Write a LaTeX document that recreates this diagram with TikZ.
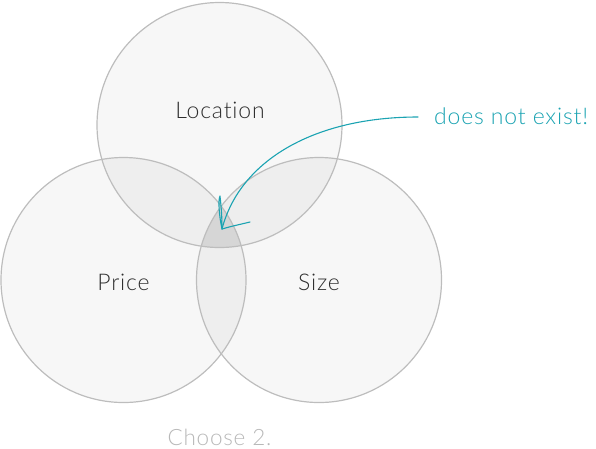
\documentclass[tikz,border=0pt]{standalone}
\usepackage{fontspec}
\setmainfont{Lato Light}[LetterSpace=3.5,Ligatures=NoCommon]
\definecolor{circfill}{HTML}{F7F7F7}
\definecolor{pairfill}{HTML}{EEEEEE}
\definecolor{tripfill}{HTML}{D6D6D6}
\definecolor{circline}{HTML}{BDBDBD}
\definecolor{teal}{HTML}{1BA3B2}
\definecolor{txt}{HTML}{2E2E2E}
\definecolor{capt}{HTML}{B8B8B8}
\begin{document}
\begin{tikzpicture}[x=1pt,y=-1pt,
  lbl/.style={font=\fontsize{23}{25}\selectfont, text=txt, inner sep=0pt},
  circ/.style={draw=circline, line width=1.2pt},
  note/.style={draw=teal, line width=1.1pt, line cap=round, line join=round}]
\useasboundingbox (0,0) rectangle (596,448);
\def\LocC{(219.5,125)}
\def\PriC{(123.5,280)}
\def\SizC{(319,280)}
\def\R{122.5}
% base fills
\fill[circfill] \LocC circle (\R);
\fill[circfill] \PriC circle (\R);
\fill[circfill] \SizC circle (\R);
% pairwise
\begin{scope}\clip \LocC circle (\R); \fill[pairfill] \PriC circle (\R); \fill[pairfill] \SizC circle (\R);\end{scope}
\begin{scope}\clip \PriC circle (\R); \fill[pairfill] \SizC circle (\R);\end{scope}
% triple
\begin{scope}\clip \LocC circle (\R); \clip \PriC circle (\R); \fill[tripfill] \SizC circle (\R);\end{scope}
% outlines
\draw[circ] \LocC circle (\R);
\draw[circ] \PriC circle (\R);
\draw[circ] \SizC circle (\R);
% labels
\node[lbl] (loc) at (220,110) {Location};
\node[lbl] (pri) at (123.5,282) {Price};
\node[lbl] (siz) at (319,282) {Size};
\node[font=\fontsize{23}{25}\selectfont, text=teal, inner sep=0pt, anchor=west] (dne) at (434,116) {does not exist!};
\node[font=\fontsize{22.5}{24}\selectfont, text=capt, inner sep=0pt] (cap) at (219.5,437) {Choose 2.};
% annotation arrow
\coordinate (tip) at (222,229);
\coordinate (s) at (418,117);
\draw[note] (s) .. controls (315,117) and (240,160) .. (tip);
\draw[note] (tip) .. controls (219,215) and (218,200) .. (220,196) .. controls (221,205) and (222,215) .. (222,229);
\draw[note] (tip) .. controls (232,226) and (242,224) .. (250,222);
\end{tikzpicture}
\end{document}
